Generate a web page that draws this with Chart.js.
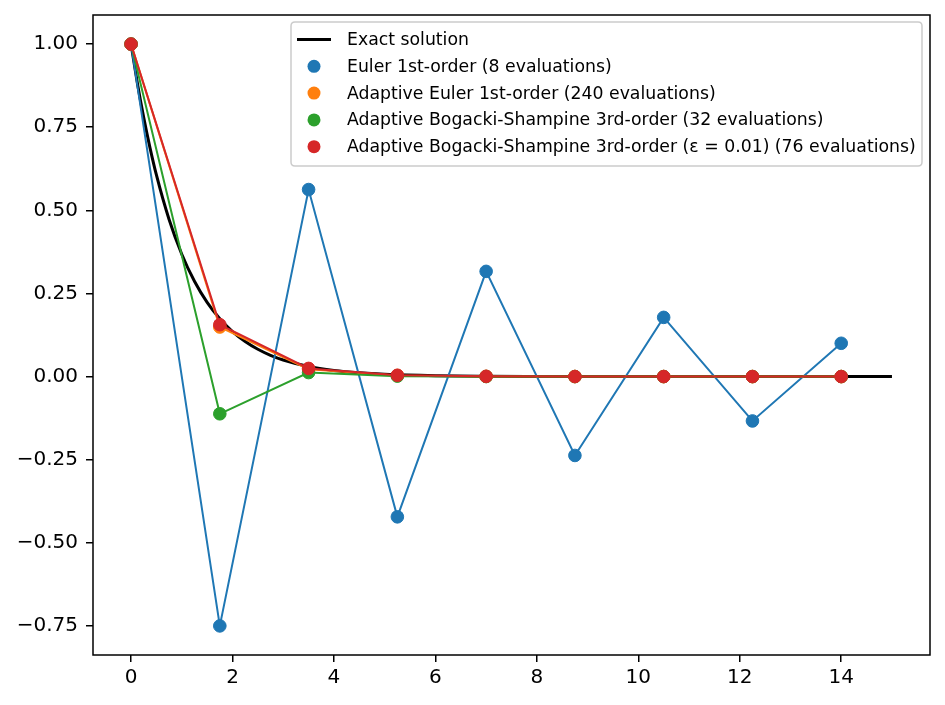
<!DOCTYPE html>
<html>
<head>
<meta charset="utf-8">
<script src="https://cdn.jsdelivr.net/npm/chart.js@4/dist/chart.umd.min.js"></script>
<style>
  html, body { margin: 0; padding: 0; background: #ffffff; }
  #wrap { width: 945px; height: 705px; position: relative; }
</style>
</head>
<body>
<div id="wrap"><canvas id="c" width="945" height="705"></canvas></div>
<script>
// ---- data ----
const gridX = [0, 1.75, 3.5, 5.25, 7, 8.75, 10.5, 12.25, 14];

const exactX = [0, 0.125, 0.25, 0.375, 0.5, 0.75, 1, 1.25, 1.5, 1.75, 2, 2.25, 2.5, 2.75, 3, 3.5, 4, 4.5, 5, 6, 7, 8, 9, 10, 11, 12, 13, 14, 15];
const exactY = [1, 0.8825, 0.7788, 0.6873, 0.6065, 0.4724, 0.3679, 0.2865, 0.2231, 0.1738, 0.1353, 0.1054, 0.0821, 0.0639, 0.0498, 0.0302, 0.0183, 0.0111, 0.0067, 0.0025, 0.0009, 0.0003, 0.0001, 0, 0, 0, 0, 0, 0];

const eulerY = [1, -0.75, 0.5625, -0.4219, 0.3164, -0.2373, 0.178, -0.1335, 0.1001];
const adaptiveEulerY = [1, 0.149, 0.022, 0.0033, 0.0005, 0.0001, 0, 0, 0];
const bsY = [1, -0.112, 0.012, 0.0013, 0.0001, 0, 0, 0, 0];
const bsEpsY = [1, 0.156, 0.0245, 0.0038, 0.0006, 0.0001, 0, 0, 0];

const seriesLabels = [
  "Exact solution",
  "Euler 1st-order (8 evaluations)",
  "Adaptive Euler 1st-order (240 evaluations)",
  "Adaptive Bogacki-Shampine 3rd-order (32 evaluations)",
  "Adaptive Bogacki-Shampine 3rd-order (ε = 0.01) (76 evaluations)"
];
const seriesColors = ["#000000", "#1f77b4", "#ff7f0e", "#2ca02c", "#d62728"];

const xTicks = [0, 2, 4, 6, 8, 10, 12, 14];
const yTicks = [-0.75, -0.5, -0.25, 0, 0.25, 0.5, 0.75, 1];

// ---- build datasets ----
const pts = (xs, ys) => xs.map((x, i) => ({ x: x, y: ys[i] }));

function markerSet(label, ys, color, order) {
  return {
    label: label,
    data: pts(gridX, ys),
    borderColor: color,
    backgroundColor: color,
    borderWidth: 2,
    pointRadius: 6.3,
    pointBorderWidth: 1,
    pointBorderColor: color,
    pointBackgroundColor: color,
    pointHoverRadius: 6.3,
    tension: 0,
    order: order
  };
}

const datasets = [
  {
    label: seriesLabels[0],
    data: pts(exactX, exactY),
    borderColor: seriesColors[0],
    borderWidth: 3,
    pointRadius: 0,
    cubicInterpolationMode: 'monotone',
    order: 4
  },
  markerSet(seriesLabels[1], eulerY, seriesColors[1], 3),
  markerSet(seriesLabels[2], adaptiveEulerY, seriesColors[2], 2),
  markerSet(seriesLabels[3], bsY, seriesColors[3], 1),
  markerSet(seriesLabels[4], bsEpsY, seriesColors[4], 0)
];

const FONT = "'DejaVu Sans', 'Liberation Sans', sans-serif";

function fmtY(v) {
  const s = Math.abs(v).toFixed(2);
  return (v < -1e-9 ? "\u2212" : "") + s;
}

// ---- box + legend plugin ----
const boxLegend = {
  id: 'boxLegend',
  afterDatasetsDraw(chart) {
    const ctx = chart.ctx;
    const a = chart.chartArea;
    ctx.save();
    ctx.strokeStyle = '#000';
    ctx.lineWidth = 1.5;
    ctx.strokeRect(a.left, a.top, a.right - a.left, a.bottom - a.top);

    // legend
    const lx = 291, ly = 22, lw = 631, lh = 144, r = 4;
    ctx.beginPath();
    ctx.moveTo(lx + r, ly);
    ctx.lineTo(lx + lw - r, ly);
    ctx.quadraticCurveTo(lx + lw, ly, lx + lw, ly + r);
    ctx.lineTo(lx + lw, ly + lh - r);
    ctx.quadraticCurveTo(lx + lw, ly + lh, lx + lw - r, ly + lh);
    ctx.lineTo(lx + r, ly + lh);
    ctx.quadraticCurveTo(lx, ly + lh, lx, ly + lh - r);
    ctx.lineTo(lx, ly + r);
    ctx.quadraticCurveTo(lx, ly, lx + r, ly);
    ctx.closePath();
    ctx.fillStyle = 'rgba(255,255,255,0.8)';
    ctx.fill();
    ctx.strokeStyle = '#cccccc';
    ctx.lineWidth = 1.5;
    ctx.stroke();

    ctx.font = "17.3px " + FONT;
    ctx.textBaseline = 'middle';
    ctx.textAlign = 'left';
    for (let i = 0; i < seriesLabels.length; i++) {
      const cy = 39.5 + i * 26.8;
      if (i === 0) {
        ctx.strokeStyle = seriesColors[0];
        ctx.lineWidth = 3;
        ctx.beginPath();
        ctx.moveTo(297, cy);
        ctx.lineTo(331, cy);
        ctx.stroke();
      } else {
        ctx.fillStyle = seriesColors[i];
        ctx.beginPath();
        ctx.arc(314, cy, 6.5, 0, Math.PI * 2);
        ctx.fill();
      }
      ctx.fillStyle = '#000';
      ctx.fillText(seriesLabels[i], 347, cy + 1);
    }
    ctx.restore();
  }
};

new Chart(document.getElementById('c'), {
  type: 'line',
  data: { datasets: datasets },
  plugins: [boxLegend],
  options: {
    responsive: false,
    animation: false,
    events: [],
    layout: { padding: { left: 0, top: 15, right: 15, bottom: 0 } },
    plugins: { legend: { display: false }, tooltip: { enabled: false }, title: { display: false } },
    scales: {
      x: {
        type: 'linear',
        min: -0.75,
        max: 15.75,
        afterBuildTicks: (s) => { s.ticks = xTicks.map(v => ({ value: v })); },
        afterFit: (s) => { s.height = 50; s.paddingLeft = 0; s.paddingRight = 0; },
        border: { display: false },
        grid: { display: true, drawOnChartArea: false, drawTicks: true, tickLength: 7, color: '#000', lineWidth: 1.5 },
        ticks: { color: '#000', font: { family: FONT, size: 20 }, padding: 4, maxRotation: 0, autoSkip: false,
                 callback: (v) => String(v) }
      },
      y: {
        type: 'linear',
        min: -0.8375,
        max: 1.0875,
        afterBuildTicks: (s) => { s.ticks = yTicks.map(v => ({ value: v })); },
        afterFit: (s) => { s.width = 93; s.paddingTop = 0; s.paddingBottom = 0; },
        border: { display: false },
        grid: { display: true, drawOnChartArea: false, drawTicks: true, tickLength: 7, color: '#000', lineWidth: 1.5 },
        ticks: { color: '#000', font: { family: FONT, size: 20 }, padding: 8, autoSkip: false,
                 callback: (v) => fmtY(v) }
      }
    }
  }
});
</script>
</body>
</html>
